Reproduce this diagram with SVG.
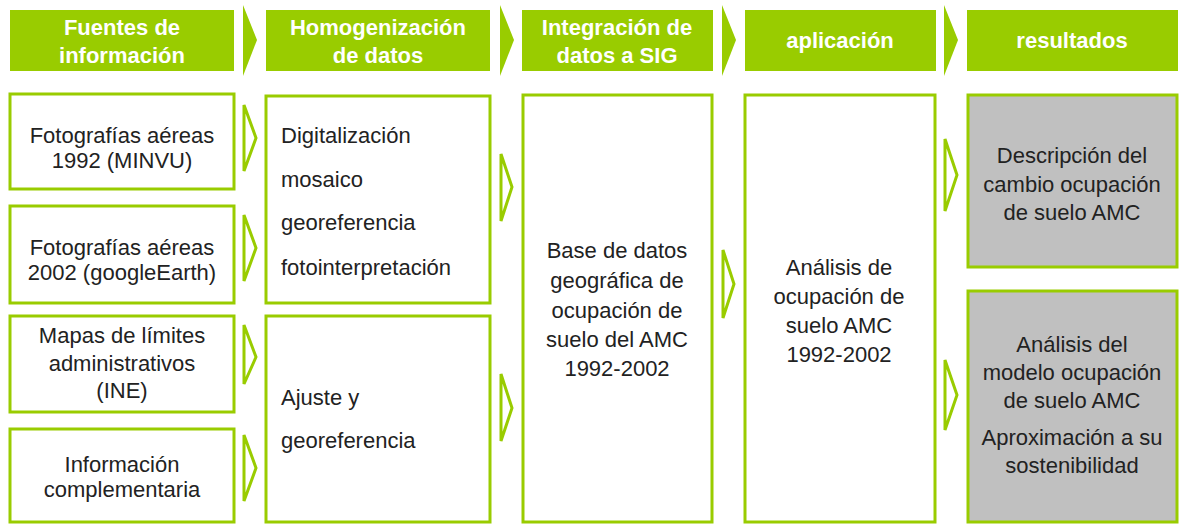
<svg xmlns="http://www.w3.org/2000/svg" width="1180" height="524" viewBox="0 0 1180 524">
<style>
.hdr{fill:#99cc00}
.ht{font-family:"Liberation Sans",Arial,sans-serif;font-size:22px;font-weight:bold;fill:#ffffff;text-anchor:middle}
.box{fill:#ffffff;stroke:#99cc00;stroke-width:3}
.gbox{fill:#c0c0c0;stroke:#99cc00;stroke-width:3}
.t{font-family:"Liberation Sans",Arial,sans-serif;font-size:22px;fill:#222222;text-anchor:middle}
.tl{font-family:"Liberation Sans",Arial,sans-serif;font-size:22px;fill:#222222}
.ha{fill:#99cc00}
.ba{fill:none;stroke:#99cc00;stroke-width:3;stroke-linejoin:miter}
</style>
<rect width="1180" height="524" fill="#ffffff"/>
<g id="h1"><rect class="hdr" x="10" y="10" width="224" height="61"/><text class="ht" x="122" y="35">Fuentes de</text><text class="ht" x="122" y="63">información</text></g>
<g id="h2"><rect class="hdr" x="266" y="10" width="224" height="61"/><text class="ht" x="378" y="35">Homogenización</text><text class="ht" x="378" y="63">de datos</text></g>
<g id="h3"><rect class="hdr" x="522" y="10" width="191" height="61"/><text class="ht" x="617" y="35">Integración de</text><text class="ht" x="617" y="63">datos a SIG</text></g>
<g id="h4"><rect class="hdr" x="745" y="10" width="191" height="61"/><text class="ht" x="840" y="48">aplicación</text></g>
<g id="h5"><rect class="hdr" x="967" y="10" width="211" height="61"/><text class="ht" x="1072" y="48">resultados</text></g>

<g id="n1"><rect class="box" x="10" y="94" width="224" height="95"/><text class="t" x="122" y="143">Fotografías aéreas</text><text class="t" x="122" y="168">1992 (MINVU)</text></g>
<g id="n2"><rect class="box" x="10" y="206" width="224" height="97"/><text class="t" x="122" y="255">Fotografías aéreas</text><text class="t" x="122" y="280">2002 (googleEarth)</text></g>
<g id="n3"><rect class="box" x="10" y="316" width="224" height="96"/><text class="t" x="122" y="343">Mapas de límites</text><text class="t" x="122" y="371">administrativos</text><text class="t" x="122" y="398">(INE)</text></g>
<g id="n4"><rect class="box" x="10" y="429" width="224" height="93"/><text class="t" x="122" y="472">Información</text><text class="t" x="122" y="497">complementaria</text></g>

<g id="n5"><rect class="box" x="266" y="96" width="224" height="207"/><text class="tl" x="281" y="143">Digitalización</text><text class="tl" x="281" y="187">mosaico</text><text class="tl" x="281" y="230">georeferencia</text><text class="tl" x="281" y="275">fotointerpretación</text></g>
<g id="n6"><rect class="box" x="266" y="316" width="224" height="206"/><text class="tl" x="281" y="405">Ajuste y</text><text class="tl" x="281" y="448">georeferencia</text></g>

<g id="n7"><rect class="box" x="523" y="95" width="189" height="427"/><text class="t" x="617" y="258">Base de datos</text><text class="t" x="617" y="288">geográfica de</text><text class="t" x="617" y="318">ocupación de</text><text class="t" x="617" y="347">suelo del AMC</text><text class="t" x="617" y="376">1992-2002</text></g>

<g id="n8"><rect class="box" x="745" y="95" width="190" height="427"/><text class="t" x="839" y="275">Análisis de</text><text class="t" x="839" y="304">ocupación de</text><text class="t" x="839" y="333">suelo AMC</text><text class="t" x="839" y="362">1992-2002</text></g>

<g id="n9"><rect class="gbox" x="968" y="95" width="209" height="172"/><text class="t" x="1072" y="163">Descripción del</text><text class="t" x="1072" y="192">cambio ocupación</text><text class="t" x="1072" y="220">de suelo AMC</text></g>
<g id="n10"><rect class="gbox" x="968" y="291" width="209" height="231"/><text class="t" x="1072" y="352">Análisis del</text><text class="t" x="1072" y="380">modelo ocupación</text><text class="t" x="1072" y="408">de suelo AMC</text><text class="t" x="1072" y="445">Aproximación a su</text><text class="t" x="1072" y="473">sostenibilidad</text></g>

<g id="connectors">
<polygon class="ha" points="243,5 257,40 243,76"/>
<polygon class="ha" points="500,5 514,40 500,76"/>
<polygon class="ha" points="722,5 736,40 722,76"/>
<polygon class="ha" points="944,5 958,40 944,76"/>
<polygon class="ba" points="244,105 256,138 244,171"/>
<polygon class="ba" points="244,215 256,248 244,281"/>
<polygon class="ba" points="244,325 256,357 244,384"/>
<polygon class="ba" points="244,435 256,468 244,501"/>
<polygon class="ba" points="501,154 512,187 501,221"/>
<polygon class="ba" points="501,374 512,408 501,441"/>
<polygon class="ba" points="723,250 734,284 723,318"/>
<polygon class="ba" points="945,139 957,175 945,211"/>
<polygon class="ba" points="945,360 957,395 945,430"/>
</g>
</svg>
